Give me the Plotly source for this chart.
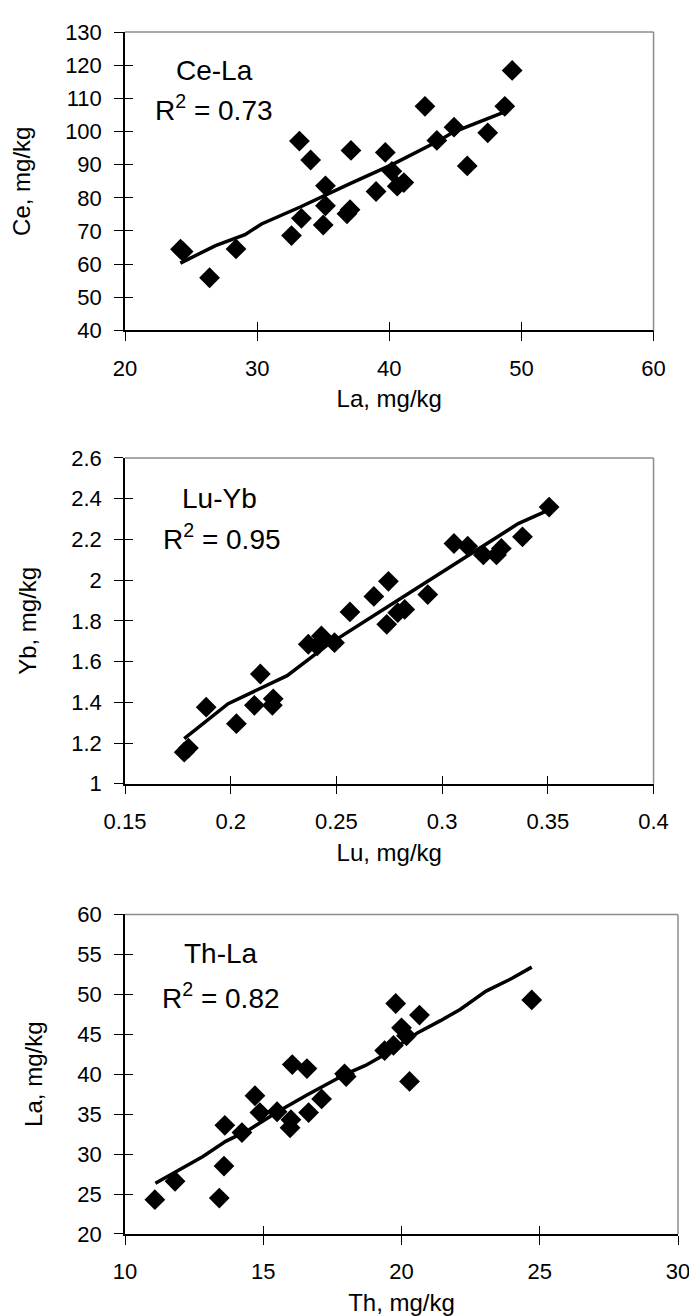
import plotly.graph_objects as go

# ---------- data ----------
ce_la_x = [24.2, 24.4, 26.4, 28.4, 32.6, 33.2, 33.35, 34.05, 35.17, 35.17, 35.0, 37.03, 36.8,
           37.1, 39.0, 39.7, 40.2, 40.6, 41.1, 42.7, 43.6, 44.9, 45.9, 47.45, 48.74, 49.3]
ce_la_y = [64.5, 63.8, 55.9, 64.6, 68.6, 97.1, 73.8, 91.4, 83.6, 77.6, 71.8, 76.4, 75.2,
           94.3, 81.9, 93.7, 88.0, 83.5, 84.6, 107.6, 97.3, 101.3, 89.6, 99.6, 107.6, 118.4]
ce_la_fit_x = [24.19, 26.85, 29.08, 30.33, 33.3, 35.04, 37.03, 40.25, 43.6, 44.9, 48.74]
ce_la_fit_y = [60.3, 65.6, 68.9, 72.1, 77.3, 80.6, 84.3, 90.1, 96.9, 99.9, 105.9]

lu_yb_x = [0.178, 0.180, 0.1884, 0.2027, 0.2112, 0.214, 0.2197, 0.2201, 0.2367, 0.2429, 0.2409,
           0.2491, 0.2564, 0.2677, 0.2746, 0.2738, 0.279, 0.2823, 0.2932, 0.3056, 0.3121,
           0.3195, 0.3257, 0.3280, 0.338, 0.3506]
lu_yb_y = [1.155, 1.175, 1.376, 1.295, 1.385, 1.539, 1.385, 1.417, 1.685, 1.726, 1.677,
           1.693, 1.844, 1.920, 1.994, 1.783, 1.84, 1.856, 1.929, 2.180, 2.167,
           2.124, 2.124, 2.156, 2.213, 2.359]
lu_yb_fit_x = [0.178, 0.1988, 0.2267, 0.2452, 0.2746, 0.2916, 0.315, 0.336, 0.35]
lu_yb_fit_y = [1.222, 1.393, 1.531, 1.677, 1.872, 1.985, 2.140, 2.278, 2.343]

th_la_x = [11.08, 11.81, 13.41, 13.58, 13.61, 14.23, 14.70, 14.88, 15.50, 15.97, 16.0, 16.05,
           16.58, 16.64, 17.11, 17.94, 18.0, 19.39, 19.71, 19.79, 20.0, 20.18, 20.29, 20.65, 24.71]
th_la_y = [24.3, 26.6, 24.5, 28.5, 33.6, 32.7, 37.3, 35.2, 35.3, 33.3, 34.3, 41.2,
           40.7, 35.2, 36.9, 40.05, 39.7, 42.95, 43.6, 48.85, 45.8, 44.8, 39.1, 47.4, 49.3]
th_la_fit_x = [11.1, 11.81, 12.82, 13.64, 14.46, 15.52, 16.58, 18.0, 18.7, 19.41, 20.59,
               21.41, 22.12, 23.06, 24.0, 24.71]
th_la_fit_y = [26.35, 27.7, 29.7, 31.6, 33.0, 35.3, 37.4, 40.05, 41.1, 42.5, 45.2,
               46.7, 48.1, 50.4, 52.0, 53.4]

panel_names = ["Ce-La", "Lu-Yb", "Th-La"]
r2_labels = ["R<sup>2</sup> = 0.73", "R<sup>2</sup> = 0.95", "R<sup>2</sup> = 0.82"]
x_titles = ["La, mg/kg", "Lu, mg/kg", "Th, mg/kg"]
y_titles = ["Ce, mg/kg", "Yb, mg/kg", "La, mg/kg"]
x_ranges = [[20, 60], [0.15, 0.4], [10, 30]]
x_dticks = [10, 0.05, 5]
y_ranges = [[40, 130], [1, 2.6], [20, 60]]
y_dticks = [10, 0.2, 5]

# ---------- layout geometry ----------
W, H = 697, 1316
ML, MR, MT, MB = 117, 14, 21, 83
x_domains = [[0, 0.9558], [0, 0.9558], [0, 1.0]]
y_domains = [[0.7517, 1.0], [0.3746, 0.6456], [0.0, 0.2659]]
name_pos = [(0.17, 0.87), (0.179, 0.875), (0.173, 0.878)]
r2_pos = [(0.168, 0.744), (0.184, 0.756), (0.173, 0.746)]

FONT = "Liberation Sans, Arial, sans-serif"
fig = go.Figure()

series = [
    (ce_la_x, ce_la_y, ce_la_fit_x, ce_la_fit_y),
    (lu_yb_x, lu_yb_y, lu_yb_fit_x, lu_yb_fit_y),
    (th_la_x, th_la_y, th_la_fit_x, th_la_fit_y),
]

for i, (sx, sy, fx, fy) in enumerate(series):
    n = i + 1
    xa = "x" if n == 1 else f"x{n}"
    ya = "y" if n == 1 else f"y{n}"
    fig.add_trace(go.Scatter(x=sx, y=sy, mode="markers", xaxis=xa, yaxis=ya,
                             marker=dict(symbol="diamond", size=16, color="black",
                                         line=dict(width=0)),
                             showlegend=False, hoverinfo="x+y"))
    fig.add_trace(go.Scatter(x=fx, y=fy, mode="lines", xaxis=xa, yaxis=ya,
                             line=dict(color="black", width=3.5),
                             showlegend=False, hoverinfo="skip"))
    # overlay axes carry the inside half of the cross-style ticks
    m = n + 3
    fig.add_trace(go.Scatter(x=[None], y=[None], mode="markers", xaxis=f"x{m}",
                             yaxis=f"y{m}", showlegend=False, hoverinfo="skip"))

layout = dict(
    width=W, height=H,
    margin=dict(l=ML, r=MR, t=MT, b=MB),
    paper_bgcolor="white", plot_bgcolor="white",
    font=dict(family=FONT, color="black", size=22),
    showlegend=False,
)

shapes = []
annotations = []
for i in range(3):
    n = i + 1
    m = n + 3
    xkey = "xaxis" if n == 1 else f"xaxis{n}"
    ykey = "yaxis" if n == 1 else f"yaxis{n}"
    xa = "x" if n == 1 else f"x{n}"
    ya = "y" if n == 1 else f"y{n}"
    common_x = dict(range=x_ranges[i], dtick=x_dticks[i], tick0=x_ranges[i][0],
                    domain=x_domains[i], showgrid=False, zeroline=False,
                    fixedrange=True)
    common_y = dict(range=y_ranges[i], dtick=y_dticks[i], tick0=y_ranges[i][0],
                    domain=y_domains[i], showgrid=False, zeroline=False,
                    fixedrange=True)
    layout[xkey] = dict(**common_x, anchor=ya, showline=True, linecolor="black",
                        linewidth=1.5, ticks="outside", ticklen=9, tickwidth=1,
                        tickcolor="black", tickfont=dict(size=22),
                        ticklabelstandoff=8,
                        title=dict(text=x_titles[i], font=dict(size=24), standoff=11))
    layout[ykey] = dict(**common_y, anchor=xa, showline=True, linecolor="black",
                        linewidth=1.5, ticks="outside", ticklen=9, tickwidth=1,
                        tickcolor="black", tickfont=dict(size=22),
                        ticklabelstandoff=8,
                        title=dict(text=y_titles[i], font=dict(size=24), standoff=28))
    layout[f"xaxis{m}"] = dict(**common_x, anchor=f"y{m}", overlaying=xa,
                               showline=False, ticks="inside", ticklen=8, tickwidth=1,
                               tickcolor="black", showticklabels=False)
    layout[f"yaxis{m}"] = dict(**common_y, anchor=f"x{m}", overlaying=ya,
                               showline=False, ticks="inside", ticklen=8, tickwidth=1,
                               tickcolor="black", showticklabels=False)
    # grey frame (top and right)
    shapes.append(dict(type="line", xref=f"{xa} domain", yref=f"{ya} domain",
                       x0=0, x1=1, y0=1, y1=1, line=dict(color="#8c8c8c", width=1.5)))
    shapes.append(dict(type="line", xref=f"{xa} domain", yref=f"{ya} domain",
                       x0=1, x1=1, y0=0, y1=1, line=dict(color="#8c8c8c", width=1.5)))
    annotations.append(dict(text=panel_names[i], xref=f"{xa} domain", yref=f"{ya} domain",
                            x=name_pos[i][0], y=name_pos[i][1],
                            showarrow=False, font=dict(size=28), xanchor="center",
                            yanchor="middle"))
    annotations.append(dict(text=r2_labels[i], xref=f"{xa} domain", yref=f"{ya} domain",
                            x=r2_pos[i][0], y=r2_pos[i][1],
                            showarrow=False, font=dict(size=28), xanchor="center",
                            yanchor="middle"))

layout["shapes"] = shapes
layout["annotations"] = annotations
fig.update_layout(**layout)

fig.write_html("out.html")
